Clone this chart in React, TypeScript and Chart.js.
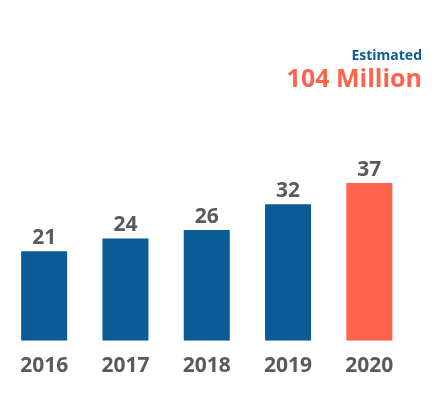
import React, { useEffect, useRef } from "react";
import { Chart, registerables } from "chart.js";

Chart.register(...registerables);

const years = ["2016", "2017", "2018", "2019", "2020"];
const values = [21, 24, 26, 32, 37];
const barColors = ["#0b5c96", "#0b5c96", "#0b5c96", "#0b5c96", "#ff634d"];
const headerSmall = "Estimated";
const headerBig = "104 Million";

const FONT = "'Open Sans', sans-serif";
const GRAY = "#5a5a5a";

export default function App() {
  const ref = useRef<HTMLCanvasElement | null>(null);

  useEffect(() => {
    document.body.style.margin = "0";
    const canvas = ref.current;
    if (!canvas) return;

    const labelsPlugin = {
      id: "valueLabels",
      afterDatasetsDraw(chart: any) {
        const ctx = chart.ctx;
        const meta = chart.getDatasetMeta(0);
        ctx.save();
        ctx.fillStyle = GRAY;
        ctx.font = `700 21px ${FONT}`;
        ctx.textAlign = "center";
        ctx.textBaseline = "alphabetic";
        meta.data.forEach((bar: any, i: number) => {
          ctx.fillText(String(values[i]), bar.x, bar.y - 7);
        });
        ctx.restore();
      },
      afterDraw(chart: any) {
        const ctx = chart.ctx;
        ctx.save();
        ctx.textAlign = "right";
        ctx.textBaseline = "alphabetic";
        ctx.fillStyle = "#0b5c96";
        ctx.font = `700 14px ${FONT}`;
        ctx.fillText(headerSmall, 422, 60);
        ctx.fillStyle = "#ff634d";
        ctx.font = `700 25px ${FONT}`;
        ctx.fillText(headerBig, 422, 87);
        ctx.restore();
      },
    };

    const chart = new Chart(canvas, {
      type: "bar",
      data: {
        labels: years,
        datasets: [
          {
            data: values,
            backgroundColor: barColors,
            borderWidth: 0,
            categoryPercentage: 1,
            barPercentage: 0.566,
          },
        ],
      },
      options: {
        responsive: false,
        animation: false,
        layout: { padding: { left: 3.5, right: 26, top: 127.5, bottom: 4 } },
        plugins: {
          legend: { display: false },
          tooltip: { enabled: false },
          title: { display: false },
        },
        scales: {
          x: {
            grid: { display: false, drawTicks: false },
            border: { display: false },
            ticks: {
              color: GRAY,
              font: { family: FONT, size: 21, weight: "bold" },
              padding: 13,
            },
          },
          y: {
            display: false,
            min: 0,
            max: 50,
          },
        },
      },
      plugins: [labelsPlugin],
    });

    return () => chart.destroy();
  }, []);

  return <canvas ref={ref} width={436} height={396} style={{ display: "block" }} />;
}
